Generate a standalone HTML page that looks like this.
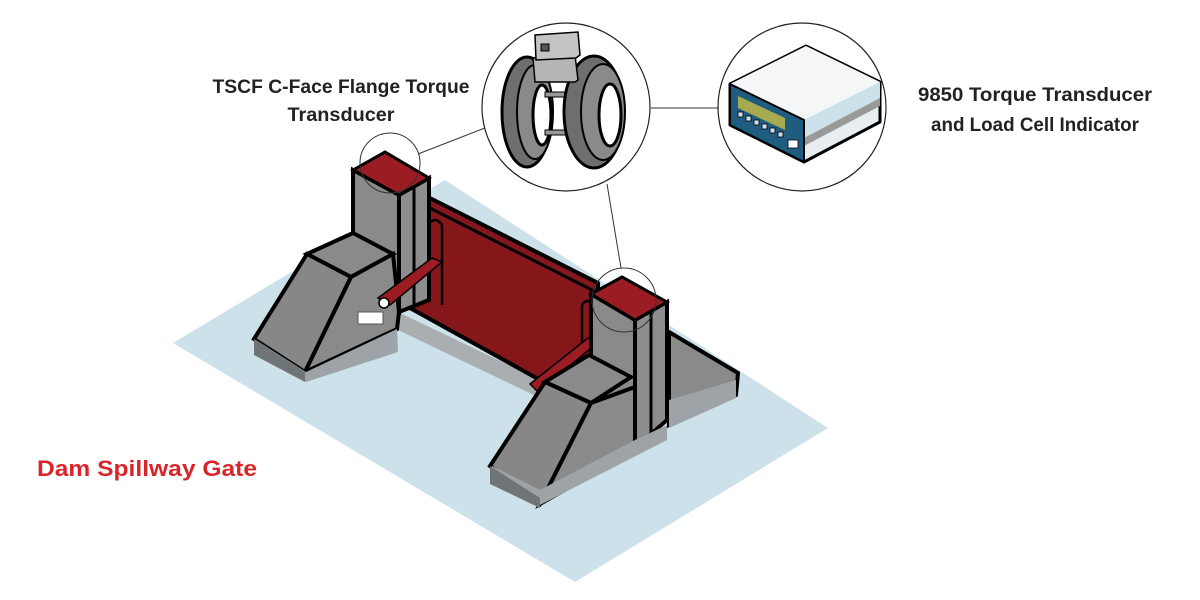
<!DOCTYPE html>
<html><head><meta charset="utf-8"><style>
html,body{margin:0;padding:0;background:#fff;}
svg{display:block;}
text{font-family:"Liberation Sans",sans-serif;font-weight:bold;}
</style></head><body>
<svg width="1200" height="600" viewBox="0 0 1200 600" xmlns="http://www.w3.org/2000/svg">
<polygon points="173,343 445,180 828,428 575,582" fill="#cde1ea"/>

<polygon points="398,312 540,380 540,398 398,330" fill="#a9aeb0"/>
<polygon points="414,190 598,283 598,372 540,380 410,308" fill="#85161a" stroke="#000" stroke-width="4" stroke-linejoin="round"/>
<line x1="414" y1="200" x2="596" y2="292" stroke="#000" stroke-width="3"/>
<path d="M428,300 L428,225 Q435,215 442,225 L442,305" fill="none" stroke="#000" stroke-width="2.5"/>
<path d="M582,365 L582,305 Q587,297 592,305" fill="none" stroke="#000" stroke-width="2.5"/>

<polygon points="353,170 399,195 399,312 353,290" fill="#8a8a8a" stroke="#000" stroke-width="4"/>
<polygon points="399,195 429,178 429,300 399,312" fill="#8d8d8d" stroke="#000" stroke-width="4"/>
<line x1="414" y1="188" x2="414" y2="305" stroke="#000" stroke-width="3"/>
<polygon points="353,170 385,152 429,178 399,195" fill="#9b1c22" stroke="#000" stroke-width="3"/>
<polygon points="307,254 353,233 393,254 351,277" fill="#8a8a8a" stroke="#000" stroke-width="4"/>
<polygon points="307,254 254,339 305,372 351,277" fill="#878787" stroke="#000" stroke-width="4"/>
<polygon points="351,277 393,254 399,312 397,329 305,372" fill="#8a8a8a" stroke="#000" stroke-width="4"/>
<polygon points="256,340 306,372 397,329 398,352 306,382 257,355" fill="#9da3a6"/>
<polygon points="254,339 305,372 305,382 254,355" fill="#6f7476"/>
<polygon points="378,298 432,258 442,262 390,305" fill="#9b1c22" stroke="#000" stroke-width="1.5"/>
<circle cx="384" cy="303" r="5" fill="#fff" stroke="#000" stroke-width="1.5"/>
<rect x="358" y="312" width="25" height="12" fill="#fff" stroke="#555" stroke-width="1"/>

<polygon points="669,332 738,373 736,395 669,425" fill="#8a8a8a" stroke="#000" stroke-width="4"/>
<polygon points="669,400 736,380 736,398 669,428" fill="#9da3a6"/>
<polygon points="530,384 588,338 596,344 538,392" fill="#9b1c22" stroke="#000" stroke-width="1.5"/>
<polygon points="591,294 635,320 635,448 591,425" fill="#8a8a8a" stroke="#000" stroke-width="4"/>
<polygon points="635,320 667,302 667,420 635,448" fill="#8d8d8d" stroke="#000" stroke-width="4"/>
<line x1="651" y1="310" x2="651" y2="435" stroke="#000" stroke-width="3"/>
<polygon points="591,294 622,277 667,302 635,320" fill="#9b1c22" stroke="#000" stroke-width="3"/>
<polygon points="545,382 589,355 631,377 591,403" fill="#8a8a8a" stroke="#000" stroke-width="4"/>
<polygon points="545,382 490,466 540,504 591,403" fill="#878787" stroke="#000" stroke-width="4"/>
<polygon points="591,403 635,387 635,450 540,504" fill="#8a8a8a" stroke="#000" stroke-width="4"/>
<polygon points="492,466 540,490 635,440 667,425 667,440 540,505 492,482" fill="#9da3a6"/>
<polygon points="490,466 540,498 540,508 490,484" fill="#6f7476"/>

<circle cx="390" cy="163" r="30" fill="none" stroke="#333" stroke-width="1"/>
<circle cx="624" cy="300" r="32" fill="none" stroke="#333" stroke-width="1"/>
<line x1="418" y1="154" x2="490" y2="126" stroke="#333" stroke-width="1"/>
<line x1="607" y1="184" x2="621" y2="268" stroke="#333" stroke-width="1"/>
<line x1="651" y1="108" x2="720" y2="108" stroke="#333" stroke-width="1"/>
<circle cx="566" cy="107" r="84" fill="#fff" stroke="#222" stroke-width="1.2"/>
<circle cx="802" cy="107" r="84" fill="#fff" stroke="#222" stroke-width="1.2"/>

<!-- torque transducer -->
<ellipse cx="527" cy="112" rx="25" ry="55" fill="#6e6e6e" stroke="#000" stroke-width="3"/>
<ellipse cx="535" cy="112" rx="18" ry="47" fill="#8a8a8a" stroke="#000" stroke-width="2"/>
<ellipse cx="542" cy="115" rx="9" ry="30" fill="#fff" stroke="#000" stroke-width="3"/>
<rect x="545" y="92" width="30" height="5" fill="#999" stroke="#000"/>
<rect x="545" y="130" width="30" height="5" fill="#999" stroke="#000"/>
<ellipse cx="594" cy="112" rx="30" ry="56" fill="#6e6e6e" stroke="#000" stroke-width="3"/>
<ellipse cx="603" cy="112" rx="22" ry="48" fill="#8a8a8a" stroke="#000" stroke-width="2"/>
<ellipse cx="610" cy="115" rx="11" ry="31" fill="#fff" stroke="#000" stroke-width="3"/>
<polygon points="533,58 575,55 578,80 575,82 535,82" fill="#b5b5b5" stroke="#000" stroke-width="1.5"/>
<polygon points="535,35 578,32 580,55 576,58 536,60" fill="#c4c4c4" stroke="#000" stroke-width="1.5"/>
<rect x="541" y="44" width="8" height="7" fill="#555" stroke="#000"/>

<!-- indicator -->
<polygon points="730,84 806,46 880,82 880,122 804,162 730,125" fill="#e8eef0" stroke="#000" stroke-width="3" stroke-linejoin="round"/>
<polygon points="730,84 806,46 880,82 804,120" fill="#f4f6f7"/>
<polygon points="804,120 880,82 880,98 804,138" fill="#cde1ea"/>
<polygon points="804,138 880,98 880,106 804,146" fill="#999"/>
<polygon points="730,84 804,120 804,162 730,125" fill="#1f5c80" stroke="#000" stroke-width="2"/>
<polygon points="738,96 785,118 785,130 738,108" fill="#a6ab4f"/>
<g fill="#cde" stroke="#000" stroke-width="0.8">
<rect x="738" y="112" width="5" height="5"/><rect x="746" y="116" width="5" height="5"/><rect x="754" y="120" width="5" height="5"/><rect x="762" y="124" width="5" height="5"/><rect x="770" y="128" width="5" height="5"/><rect x="778" y="132" width="5" height="5"/>
<rect x="788" y="140" width="10" height="8" fill="#fff"/>
</g>

<text x="341" y="93" font-size="19" fill="#222" text-anchor="middle" textLength="257" lengthAdjust="spacingAndGlyphs">TSCF C-Face Flange Torque</text>
<text x="341" y="121" font-size="19" fill="#222" text-anchor="middle" textLength="107" lengthAdjust="spacingAndGlyphs">Transducer</text>
<text x="1035" y="101" font-size="19" fill="#222" text-anchor="middle" textLength="234" lengthAdjust="spacingAndGlyphs">9850 Torque Transducer</text>
<text x="1035" y="131" font-size="19" fill="#222" text-anchor="middle" textLength="208" lengthAdjust="spacingAndGlyphs">and Load Cell Indicator</text>
<text x="37" y="476" font-size="22" fill="#d9252a" textLength="220" lengthAdjust="spacingAndGlyphs">Dam Spillway Gate</text>
</svg>
</body></html>
